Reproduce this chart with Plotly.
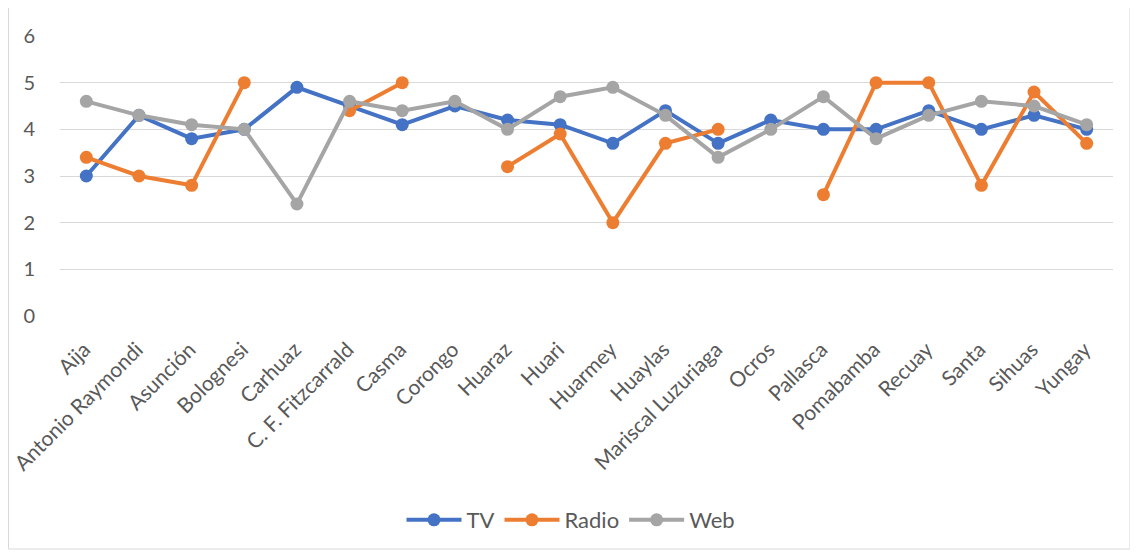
import plotly.graph_objects as go

categories = ["Aija", "Antonio Raymondi", "Asunción", "Bolognesi", "Carhuaz",
              "C. F. Fitzcarrald", "Casma", "Corongo", "Huaraz", "Huari",
              "Huarmey", "Huaylas", "Mariscal Luzuriaga", "Ocros", "Pallasca",
              "Pomabamba", "Recuay", "Santa", "Sihuas", "Yungay"]
tv = [3.0, 4.3, 3.8, 4.0, 4.9, 4.5, 4.1, 4.5, 4.2, 4.1,
      3.7, 4.4, 3.7, 4.2, 4.0, 4.0, 4.4, 4.0, 4.3, 4.0]
radio = [3.4, 3.0, 2.8, 5.0, None, 4.4, 5.0, None, 3.2, 3.9,
         2.0, 3.7, 4.0, None, 2.6, 5.0, 5.0, 2.8, 4.8, 3.7]
web = [4.6, 4.3, 4.1, 4.0, 2.4, 4.6, 4.4, 4.6, 4.0, 4.7,
       4.9, 4.3, 3.4, 4.0, 4.7, 3.8, 4.3, 4.6, 4.5, 4.1]
y_ticks = [0, 1, 2, 3, 4, 5, 6]

series = [("TV", tv, "#4472C4"), ("Radio", radio, "#ED7D31"), ("Web", web, "#A5A5A5")]

fig = go.Figure()
for name, vals, col in series:
    fig.add_trace(go.Scatter(
        x=categories, y=vals, name=name, mode="lines+markers",
        line=dict(color=col, width=4),
        marker=dict(color=col, size=13),
        connectgaps=False,
    ))

# figure is placed at page offset (8, 8) by the default body margin
OFF = 8
W, H = 1130, 545
L, R, T, B = 60 - OFF, 25, 36 - OFF, 237
pw, ph = W - L - R, H - T - B

def px_x(px):
    return (px - OFF - L) / pw

def px_y(py):
    return (H - B - (py - OFF)) / ph

fig.add_shape(type="rect", xref="paper", yref="paper",
              x0=px_x(8.5), x1=px_x(1130), y0=px_y(549), y1=px_y(7.5),
              line=dict(color="#D9D9D9", width=1), fillcolor="rgba(0,0,0,0)",
              layer="below")

fig.update_layout(
    width=W, height=H,
    margin=dict(l=L, r=R, t=T, b=B, pad=0, autoexpand=False),
    paper_bgcolor="white", plot_bgcolor="white",
    font=dict(family="Lato, 'Open Sans', sans-serif", color="#595959", size=20),
    showlegend=True,
    legend=dict(orientation="h", x=px_x(571), xanchor="center", y=px_y(520), yanchor="middle",
                font=dict(size=22, color="#595959"), traceorder="normal",
                itemwidth=55),
    xaxis=dict(type="category", range=[-0.5, 19.5], tickangle=-45,
               showgrid=False, showline=False, zeroline=False, automargin=False,
               ticks="outside", ticklen=12, tickcolor="rgba(0,0,0,0)",
               ticklabelshift=-2,
               tickfont=dict(size=21, color="#595959")),
    yaxis=dict(range=[0, 6], tickvals=y_ticks, showgrid=True, gridcolor="#D9D9D9",
               gridwidth=1, zeroline=False, showline=False, ticks="", automargin=False,
               ticklabelstandoff=24,
               tickfont=dict(size=20, color="#595959")),
)

fig.write_html("out.html")
